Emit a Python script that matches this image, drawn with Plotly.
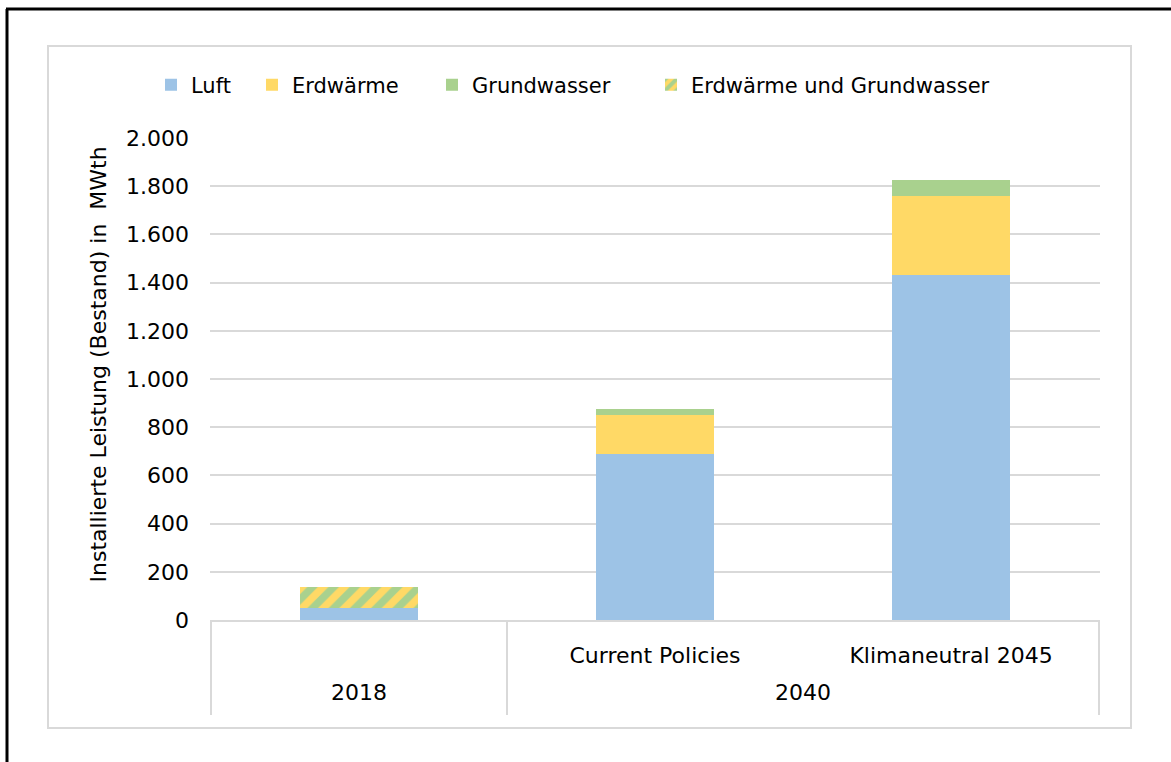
import plotly.graph_objects as go

# data
categories = ["2018", "Current Policies", "Klimaneutral 2045"]
inner_labels = ["", "Current Policies", "Klimaneutral 2045"]
group_labels = ["2018", "2040"]
group_centers = [0, 1.5]

luft = [50, 690, 1430]
erdwaerme = [None, 160, 330]
grundwasser = [None, 25, 65]
erdwaerme_grundwasser = [85, None, None]

FONT = "DejaVu Sans, Liberation Sans, Arial, sans-serif"
GRID = "#D9D9D9"

# plot area in pixels (Excel-like layout)
W, H = 1171, 762
L, R, T, B = 210, 1100, 138, 620


def px_x(p):
    return (p - L) / (R - L)


def px_y(p):
    return (B - p) / (B - T)


fig = go.Figure()

fig.add_trace(go.Bar(x=categories, y=luft, name="Luft",
                     marker=dict(color="#9DC3E6", line_width=0), legend="legend"))
fig.add_trace(go.Bar(x=categories, y=erdwaerme, name="Erdwärme",
                     marker=dict(color="#FFD966", line_width=0), legend="legend2"))
fig.add_trace(go.Bar(x=categories, y=grundwasser, name="Grundwasser",
                     marker=dict(color="#A9D18E", line_width=0), legend="legend3"))
fig.add_trace(go.Bar(
    x=categories, y=erdwaerme_grundwasser, name="Erdwärme und Grundwasser",
    marker=dict(
        color="#FFD966", line_width=0,
        pattern=dict(shape="/", bgcolor="#FFD966", fgcolor="#A9D18E",
                     fillmode="replace", size=15, solidity=0.5),
    ),
    legend="legend4",
))

legend_style = dict(orientation="h", yanchor="middle", xanchor="left",
                    bgcolor="rgba(0,0,0,0)", font=dict(family=FONT, size=21, color="#000"))
leg_y = px_y(85)

fig.update_layout(
    width=W, height=H,
    barmode="stack",
    bargap=0.6,
    separators=",.",
    showlegend=True,
    paper_bgcolor="white",
    plot_bgcolor="white",
    margin=dict(l=L, r=W - R, t=T, b=H - B),
    font=dict(family=FONT, size=21, color="#000"),
    legend=dict(x=px_x(151), y=leg_y, **legend_style),
    legend2=dict(x=px_x(252), y=leg_y, **legend_style),
    legend3=dict(x=px_x(432), y=leg_y, **legend_style),
    legend4=dict(x=px_x(651), y=leg_y, **legend_style),
    xaxis=dict(
        type="category",
        tickvals=categories,
        ticktext=inner_labels,
        showline=True, linecolor=GRID, linewidth=2,
        showgrid=False, ticks="",
        ticklabelstandoff=15,
        tickfont=dict(size=22),
    ),
    yaxis=dict(
        range=[0, 2000],
        dtick=200,
        tickformat=",d",
        showgrid=True, gridcolor=GRID, gridwidth=2,
        zeroline=False, showline=False, ticks="",
        ticklabelstandoff=20,
        tickfont=dict(size=22),
    ),
)

# group labels of the second category level
for label, cx in zip(group_labels, group_centers):
    fig.add_annotation(x=cx, xref="x", y=px_y(692), yref="paper", text=label,
                       showarrow=False, font=dict(size=22), yanchor="middle")

# y-axis title
fig.add_annotation(x=px_x(83), xref="paper", y=px_y(365), yref="paper",
                   text="Installierte Leistung (Bestand) in&nbsp; MWth",
                   textangle=-90, showarrow=False, font=dict(size=22))

# category dividers
for xv in [-0.5, 0.5, 2.5]:
    fig.add_shape(type="line", xref="x", yref="paper", x0=xv, x1=xv,
                  y0=0, y1=px_y(715), line=dict(color=GRID, width=2))

# chart area border and outer frame
fig.add_shape(type="rect", xref="paper", yref="paper",
              x0=px_x(48), x1=px_x(1131), y0=px_y(728), y1=px_y(46),
              line=dict(color=GRID, width=2))
fig.add_shape(type="line", xref="paper", yref="paper",
              x0=px_x(7), x1=px_x(7), y0=px_y(9), y1=px_y(800),
              line=dict(color="black", width=3))
fig.add_shape(type="line", xref="paper", yref="paper",
              x0=px_x(6), x1=px_x(1200), y0=px_y(9), y1=px_y(9),
              line=dict(color="black", width=3))

fig.write_html("out.html", config={"displayModeBar": False},
               post_script="document.body.style.margin='0';")
